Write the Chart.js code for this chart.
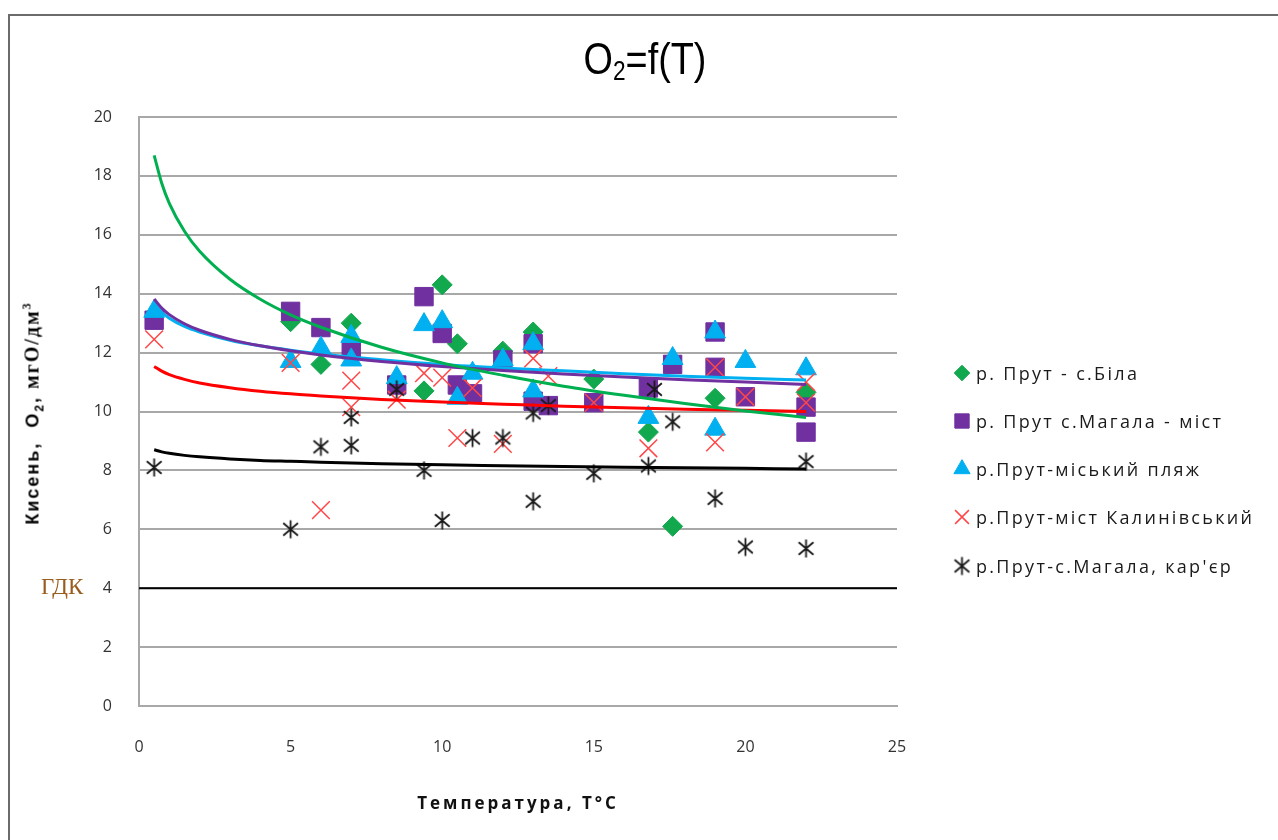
<!DOCTYPE html>
<html lang="uk">
<head>
<meta charset="utf-8">
<title>O2=f(T)</title>
<script src="https://cdn.jsdelivr.net/npm/chart.js@4.4.1/dist/chart.umd.min.js"></script>
<style>
html, body { margin: 0; padding: 0; background: #fff; overflow: hidden; }
#wrap { position: relative; width: 1278px; height: 840px; overflow: hidden; background: #fff; }
#frame { position: absolute; left: 8px; top: 14px; width: 1400px; height: 1000px; border: 2px solid #6b6b6b; box-sizing: border-box; }
#c { position: absolute; left: 0; top: 0; }
#title { position: absolute; left: 520px; width: 250px; top: 36px; text-align: center; white-space: nowrap;
  font-family: "Liberation Sans", Arial, sans-serif; font-size: 45px; color: #000; line-height: 1;
  transform: scaleX(0.84); transform-origin: 50% 50%; }
#title sub { font-size: 27px; vertical-align: -6px; line-height: 0; }
#ytitle { position: absolute; left: 32px; top: 413px; transform: translate(-50%, -50%) rotate(-90deg);
  white-space: nowrap; font-weight: bold; font-size: 18px; color: #000; letter-spacing: 2px; }
#ytitle .s { font-family: "Liberation Sans", Arial, sans-serif; }
#ytitle .t { font-family: "Liberation Serif", "Times New Roman", serif; font-size: 20px; }
#ytitle sub, #ytitle sup { font-size: 12px; line-height: 0; }
#xtitle { position: absolute; left: 368px; width: 300px; top: 791px; text-align: center; white-space: nowrap;
  font-family: "Open Sans", sans-serif; font-weight: bold; font-size: 17px; color: #111; letter-spacing: 3px; }
#gdk { position: absolute; left: 41px; top: 574px; font-family: "Liberation Serif", "Times New Roman", serif;
  font-size: 23px; color: #9a5b1e; }
.leg { position: absolute; left: 950px; height: 26px; display: flex; align-items: center;
  font-family: "Open Sans", sans-serif; font-size: 18px; letter-spacing: 2.3px; color: #1a1a1a; white-space: nowrap; }
.leg canvas { width: 24px; height: 24px; margin-right: 2px; }
</style>
</head>
<body>
<div id="wrap">
  <div id="frame"></div>
  <canvas id="c" width="1278" height="840"></canvas>
  <div id="title">O<sub>2</sub>=f(T)</div>
  <div id="ytitle"><span class="s">Кисень,&nbsp; О<sub>2</sub>, </span><span class="t">мгО/дм<sup>3</sup></span></div>
  <div id="xtitle">Температура, T°C</div>
  <div id="gdk">ГДК</div>
  <div id="legend"></div>
</div>
<script>
// Measured temperature (°C) and dissolved oxygen (mg O/dm³) for each sampling site
const tempBila   = [5, 6, 7, 9.4, 10, 10.5, 12, 13, 15, 16.8, 17.6, 19, 22];
const o2Bila     = [13.05, 11.6, 13.0, 10.7, 14.3, 12.3, 12.05, 12.7, 11.1, 9.3, 6.1, 10.45, 10.65];

const tempMist   = [0.5, 5, 6, 7, 8.5, 9.4, 10, 10.5, 11, 12, 13, 13, 13.5, 15, 16.8, 17.6, 19, 19, 20, 22, 22];
const o2Mist     = [13.1, 13.4, 12.85, 12.1, 10.9, 13.9, 12.65, 10.9, 10.6, 11.75, 12.3, 10.35, 10.2, 10.3, 10.8, 11.6, 12.7, 11.5, 10.5, 10.15, 9.3];

const tempPlyazh = [0.5, 5, 6, 7, 7, 8.5, 9.4, 10, 10.5, 11, 12, 13, 13, 16.8, 17.6, 19, 19, 20, 22];
const o2Plyazh   = [13.4, 11.7, 12.15, 12.55, 11.75, 11.15, 12.95, 13.05, 10.45, 11.3, 11.75, 12.3, 10.7, 9.8, 11.8, 12.7, 9.4, 11.7, 11.45];

const tempKalyn  = [0.5, 5, 6, 7, 7, 8.5, 9.4, 10, 10.5, 11, 12, 13, 13.5, 15, 16.8, 19, 19, 20, 22, 22];
const o2Kalyn    = [12.45, 11.65, 6.65, 11.05, 10.15, 10.4, 11.3, 11.15, 9.1, 10.8, 8.9, 11.8, 11.2, 10.3, 8.75, 11.5, 8.95, 10.5, 11.0, 10.3];

const tempKarier = [0.5, 5, 6, 7, 7, 8.5, 9.4, 10, 11, 12, 13, 13, 13.5, 15, 16.8, 17, 17.6, 19, 20, 22, 22];
const o2Karier   = [8.1, 6.0, 8.8, 9.8, 8.85, 10.75, 8.0, 6.3, 9.1, 9.1, 9.95, 6.95, 10.2, 7.9, 8.15, 10.75, 9.65, 7.05, 5.4, 8.3, 5.35];

// Logarithmic trend curves, sampled along the temperature range
const trendT      = [0.5, 0.75, 1, 1.5, 2, 3, 4, 5, 6, 8, 10, 12, 14, 16, 18, 20, 22];
const trendBila   = [18.70, 17.75, 17.07, 16.12, 15.44, 14.49, 13.81, 13.28, 12.86, 12.18, 11.65, 11.23, 10.86, 10.55, 10.27, 10.02, 9.80];
const trendMist   = [13.82, 13.51, 13.29, 12.98, 12.76, 12.45, 12.23, 12.06, 11.92, 11.70, 11.53, 11.39, 11.27, 11.17, 11.08, 11.00, 10.92];
const trendPlyazh = [13.64, 13.37, 13.17, 12.89, 12.70, 12.42, 12.23, 12.08, 11.95, 11.76, 11.60, 11.48, 11.38, 11.28, 11.20, 11.13, 11.07];
const trendKalyn  = [11.53, 11.37, 11.25, 11.09, 10.97, 10.81, 10.69, 10.60, 10.53, 10.41, 10.32, 10.25, 10.18, 10.13, 10.08, 10.04, 10.00];
const trendKarier = [8.70, 8.63, 8.58, 8.51, 8.46, 8.39, 8.34, 8.31, 8.28, 8.23, 8.19, 8.16, 8.13, 8.11, 8.09, 8.07, 8.05];

// Maximum permissible concentration (ГДК) and axis ranges
const gdk = 4;
const xRange = [0, 25];
const yRange = [0, 20];
const xStep = 5;
const yStep = 2;

const seriesNames = [
  'р. Прут - с.Біла',
  'р. Прут с.Магала - міст',
  'р.Прут-міський пляж',
  'р.Прут-міст Калинівський',
  'р.Прут-с.Магала, кар\'єр'
];

const cGreen = '#12a84e', cPurple = '#7030a0', cBlue = '#00b0f0', cRed = '#ff4747', cBlack = '#1a1a1a';

function pairs(xs, ys) { return xs.map((x, i) => ({ x: x, y: ys[i] })); }

// Six-armed asterisk marker (vertical stroke plus an X)
function asteriskMarker(size, color, lw) {
  const cv = document.createElement('canvas');
  cv.width = size; cv.height = size;
  const g = cv.getContext('2d');
  const m = size / 2, r = size / 2 - 1.5;
  g.strokeStyle = color; g.lineWidth = lw; g.lineCap = 'butt';
  g.beginPath();
  g.moveTo(m, m - r); g.lineTo(m, m + r);
  const d = r * 0.82;
  g.moveTo(m - d, m - d * 0.85); g.lineTo(m + d, m + d * 0.85);
  g.moveTo(m - d, m + d * 0.85); g.lineTo(m + d, m - d * 0.85);
  g.stroke();
  return cv;
}
const asterisk = asteriskMarker(21, cBlack, 1.8);

const markerDefs = [
  { style: 'rectRot', radius: 10, fill: cGreen, stroke: cGreen, width: 1 },
  { style: 'rect', radius: 13, fill: cPurple, stroke: cPurple, width: 1 },
  { style: 'triangle', radius: 12, fill: cBlue, stroke: cBlue, width: 1 },
  { style: 'crossRot', radius: 12.5, fill: cRed, stroke: cRed, width: 1.5 },
  { style: asterisk, radius: 10, fill: cBlack, stroke: cBlack, width: 1 }
];

const pointSets = [
  pairs(tempBila, o2Bila), pairs(tempMist, o2Mist), pairs(tempPlyazh, o2Plyazh),
  pairs(tempKalyn, o2Kalyn), pairs(tempKarier, o2Karier)
];
const trendSets = [trendBila, trendMist, trendPlyazh, trendKalyn, trendKarier];
const trendColors = ['#00b050', '#7030a0', '#00b0f0', '#ff0000', '#000000'];

const datasets = [];
// Measurement markers: the first site sits at the bottom of the stack
pointSets.forEach((pts, i) => {
  const m = markerDefs[i];
  datasets.push({
    label: seriesNames[i], data: pts, showLine: false,
    pointStyle: m.style, pointRadius: m.radius, pointHoverRadius: m.radius,
    backgroundColor: m.fill, borderColor: m.stroke, pointBorderWidth: m.width,
    order: 10 - i
  });
});
// Trend curves are drawn above the markers
trendSets.forEach((vals, i) => {
  datasets.push({
    label: seriesNames[i] + ' (тренд)', data: pairs(trendT, vals), showLine: true,
    borderColor: trendColors[i], borderWidth: 3, pointRadius: 0, fill: false,
    cubicInterpolationMode: 'monotone', order: 2
  });
});
// ГДК limit line
datasets.push({
  label: 'ГДК', data: [{ x: xRange[0], y: gdk }, { x: xRange[1], y: gdk }], showLine: true,
  borderColor: '#000', borderWidth: 2, pointRadius: 0, fill: false, order: 1
});

const tickFont = { family: '"Open Sans", sans-serif', size: 16 };

new Chart(document.getElementById('c'), {
  type: 'scatter',
  data: { datasets: datasets },
  options: {
    responsive: false,
    animation: false,
    events: [],
    layout: { padding: { left: 0, top: 117, right: 381, bottom: 0 } },
    plugins: { legend: { display: false }, tooltip: { enabled: false }, title: { display: false } },
    scales: {
      x: {
        type: 'linear', min: xRange[0], max: xRange[1],
        ticks: { stepSize: xStep, color: '#333', font: tickFont, padding: 32, maxRotation: 0 },
        grid: { display: false, drawTicks: false },
        border: { display: true, color: '#a8a8a8', width: 2 },
        afterFit: s => { s.height = 134; }
      },
      y: {
        type: 'linear', min: yRange[0], max: yRange[1],
        ticks: { stepSize: yStep, color: '#333', font: tickFont, padding: 27 },
        grid: { color: '#a8a8a8', lineWidth: 2, drawTicks: false },
        border: { display: true, color: '#a8a8a8', width: 2 },
        afterFit: s => { s.width = 139; }
      }
    }
  }
});

// Legend entries
const legend = document.getElementById('legend');
const legendY = [373, 421, 469, 517, 566];
seriesNames.forEach((name, i) => {
  const row = document.createElement('div');
  row.className = 'leg';
  row.style.top = (legendY[i] - 13) + 'px';
  const cv = document.createElement('canvas');
  cv.width = 24; cv.height = 24;
  const g = cv.getContext('2d');
  const m = markerDefs[i];
  g.fillStyle = m.fill; g.strokeStyle = m.stroke; g.lineWidth = m.width;
  const r = typeof m.style === 'string' ? m.radius * 0.78 : m.radius;
  Chart.helpers.drawPoint(g, { pointStyle: m.style, radius: r, borderWidth: m.width, rotation: 0 }, 12, 12);
  const span = document.createElement('span');
  span.textContent = name;
  row.appendChild(cv);
  row.appendChild(span);
  legend.appendChild(row);
});
</script>
</body>
</html>
